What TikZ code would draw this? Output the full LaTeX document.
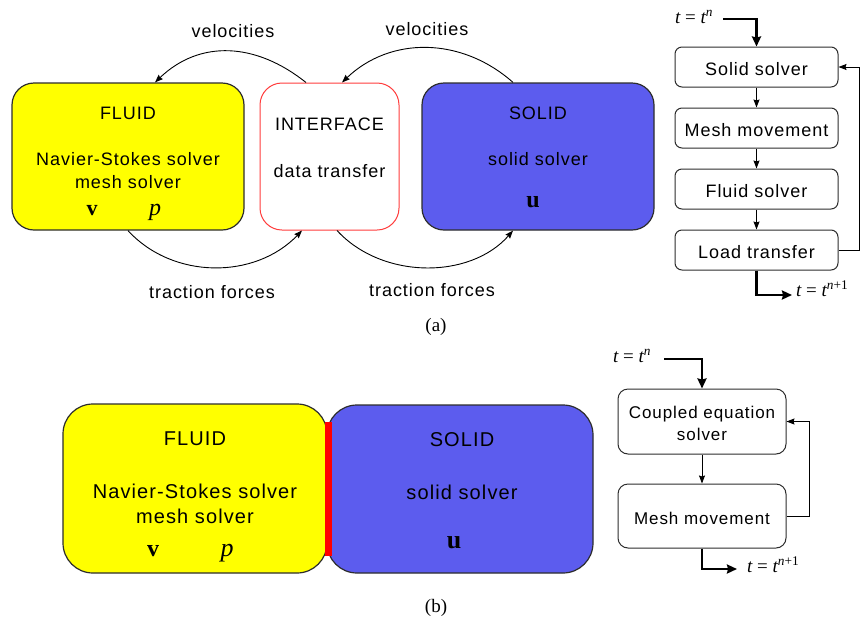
\documentclass[tikz,border=0pt]{standalone}
\usepackage{fontspec}
\setmainfont{Liberation Sans}[LetterSpace=5.5]
\newfontfamily\tms{Liberation Serif}
\usetikzlibrary{arrows.meta,calc}
\definecolor{fluidY}{RGB}{255,255,0}
\definecolor{solidB}{RGB}{92,92,238}
\definecolor{edgeG}{RGB}{45,45,45}
\definecolor{ifaceR}{RGB}{255,60,60}
\begin{document}
\begin{tikzpicture}[x=1pt,y=-1pt,
  bigbox/.style={draw=edgeG, line width=1.2pt, rounded corners=22pt, inner sep=0pt},
  bigboxb/.style={draw=edgeG, line width=1.2pt, rounded corners=30pt, inner sep=0pt},
  flowbox/.style={draw=edgeG, line width=1pt, rounded corners=7pt, inner sep=0pt, minimum width=163pt, minimum height=40pt},
  flowboxb/.style={draw=edgeG, line width=1pt, rounded corners=10pt, inner sep=0pt, minimum width=168pt},
  txt/.style={inner sep=0pt, anchor=base, font=\fontsize{18}{21}\selectfont},
  txtb/.style={inner sep=0pt, anchor=base, font=\fontsize{20}{23}\selectfont},
  txtf/.style={inner sep=0pt, anchor=base, font=\fontsize{17}{20}\selectfont},
  mth/.style={inner sep=0pt, anchor=base, font=\fontsize{22}{24}\selectfont\tms\bfseries},
  mthi/.style={inner sep=0pt, anchor=base, font=\fontsize{24}{26}\selectfont\tms\itshape},
  tlab/.style={inner sep=0pt, anchor=base west, font=\fontsize{19}{21}\selectfont\tms\itshape},
  capl/.style={inner sep=0pt, anchor=base, font=\fontsize{19}{21}\selectfont\tms},
  conn/.style={draw=black, line width=0.9pt, -{Stealth[length=8pt,width=6pt,inset=1pt]}},
  thk/.style={draw=black, line width=2.9pt, -{Stealth[length=10pt,width=9pt,inset=1pt]}}
]
\useasboundingbox (0,0) rectangle (860,622);
\fill[white] (0,0) rectangle (860,622);

% ---------- (a) ----------
\node[bigbox, fill=fluidY, minimum width=232pt, minimum height=147pt] (fluidA) at (128,156.5) {};
\node[bigbox, draw=ifaceR, line width=1pt, fill=white, minimum width=139pt, minimum height=147pt] (ifaceA) at (329.5,156.5) {};
\node[bigbox, fill=solidB, minimum width=232pt, minimum height=147pt] (solidA) at (538,156.5) {};

\node[txt] (fa1) at (128,119) {FLUID};
\node[txt] (fa2) at (128,165) {Navier-Stokes solver};
\node[txt] (fa3) at (128,188) {mesh solver};
\node[mth] (fa4) at (92,215) {v};
\node[mthi] (fa5) at (155,215) {p};
\node[txt] (ia1) at (329.5,130) {INTERFACE};
\node[txt] (ia2) at (329.5,177) {data transfer};
\node[txt] (sa1) at (538,119) {SOLID};
\node[txt] (sa2) at (538,165) {solid solver};
\node[mth, font=\fontsize{24}{26}\selectfont\tms\bfseries] (sa3) at (533,207) {u};

\draw[conn] ($(ifaceA.north)+(-23.5,0)$) .. controls +(-50,-40) and +(45,-43) .. ($(fluidA.north)+(27,0)$);
\draw[conn] ($(solidA.north)+(-25,0)$) .. controls +(-52,-46) and +(48,-46) .. ($(ifaceA.north)+(12.5,0)$);
\draw[conn] (fluidA.south) .. controls +(45,49) and +(-47,49) .. ($(ifaceA.south)+(-27.5,0)$);
\draw[conn] ($(ifaceA.south)+(7.5,0)$) .. controls +(45,49) and +(-43,49) .. ($(solidA.south)+(-25,0)$);

\node[txt] (vel1) at (233,37) {velocities};
\node[txt] (vel2) at (427,35) {velocities};
\node[txt] (tr1) at (212,298) {traction forces};
\node[txt] (tr2) at (432,296) {traction forces};
\node[capl] (capa) at (436,331) {(a)};

% flowchart (a)
\node[flowbox] (f1) at (756.5,67) {};
\node[flowbox] (f2) at (756.5,128) {};
\node[flowbox] (f3) at (756.5,189) {};
\node[flowbox] (f4) at (756.5,250) {};
\node[txt] (f1t) at (756.5,75) {Solid solver};
\node[txt] (f2t) at (756.5,136) {Mesh movement};
\node[txt] (f3t) at (756.5,197) {Fluid solver};
\node[txt] (f4t) at (756.5,258) {Load transfer};
\draw[conn] (f1) -- (f2);
\draw[conn] (f2) -- (f3);
\draw[conn] (f3) -- (f4);
\draw[conn] (f4.east) -- ++(21,0) |- (f1.east);
\node[tlab] (tna) at (675,23) {t {\upshape =} t\textsuperscript{n}};
\coordinate (sa) at (723,19);
\draw[thk] (sa) -| (f1.north);
\coordinate (ea) at (792,295);
\draw[thk] (f4.south) |- (ea);
\node[tlab] (tn1a) at (796,296) {t {\upshape =} t\textsuperscript{n{\upshape +1}}};

% ---------- (b) ----------
\node[bigboxb, fill=fluidY, minimum width=264pt, minimum height=169pt] (fluidB) at (195,488.5) {};
\node[bigboxb, fill=solidB, minimum width=266pt, minimum height=168pt] (solidB) at (460,489) {};
\node[fill=red, inner sep=0pt, minimum width=7pt, minimum height=134pt] (ifb) at (328.5,489) {};

\node[txtb] (fb1) at (195,445) {FLUID};
\node[txtb] (fb2) at (195,498) {Navier-Stokes solver};
\node[txtb] (fb3) at (195,523) {mesh solver};
\node[mth, font=\fontsize{24}{26}\selectfont\tms\bfseries] (fb4) at (153,556) {v};
\node[mthi, font=\fontsize{26}{28}\selectfont\tms\itshape] (fb5) at (227,556) {p};
\node[txtb] (sb1) at (462,446) {SOLID};
\node[txtb] (sb2) at (462,499) {solid solver};
\node[mth, font=\fontsize{26}{28}\selectfont\tms\bfseries] (sb3) at (454,548) {u};
\node[capl] (capb) at (436,612) {(b)};

% flowchart (b)
\node[flowboxb, minimum height=65pt] (b1) at (702,421.5) {};
\node[flowboxb, minimum height=64pt] (b2) at (702,516) {};
\node[txtf] (b1t) at (702,418) {Coupled equation};
\node[txtf] (b1u) at (702,440) {solver};
\node[txtf] (b2t) at (702,524) {Mesh movement};
\draw[conn] (b1) -- (b2);
\draw[conn] (b2.east) -- ++(23,0) |- (b1.east);
\node[tlab] (tnb) at (613,362) {t {\upshape =} t\textsuperscript{n}};
\coordinate (sb) at (664,359);
\draw[thk] (sb) -| (b1.north);
\coordinate (eb) at (737,569);
\draw[thk] (b2.south) |- (eb);
\node[tlab] (tn1b) at (747,572) {t {\upshape =} t\textsuperscript{n{\upshape +1}}};
\end{tikzpicture}
\end{document}
